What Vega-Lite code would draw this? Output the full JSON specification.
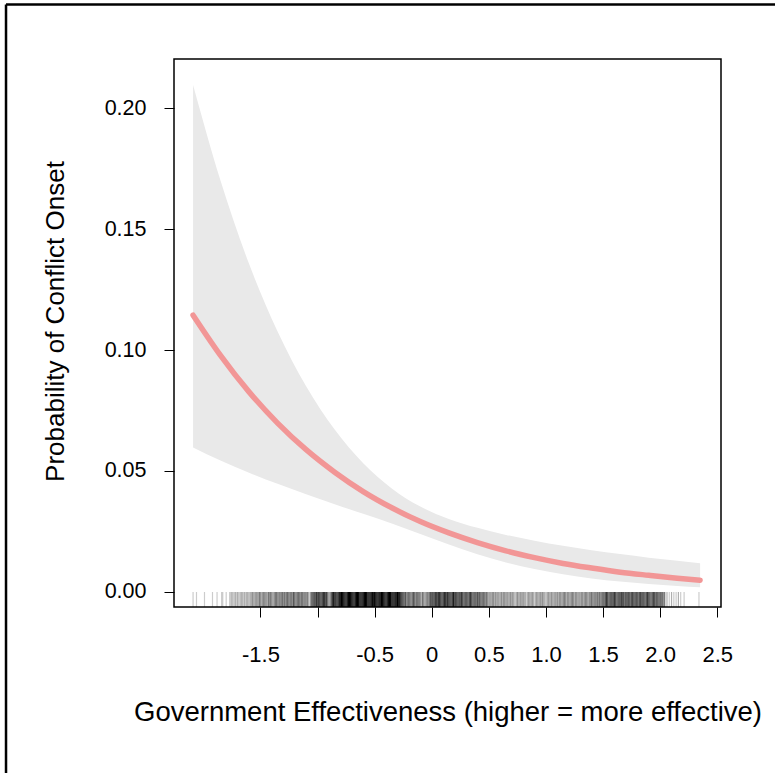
{
  "$schema": "https://vega.github.io/schema/vega-lite/v6.json",
  "width": 547,
  "height": 548,
  "autosize": {"type": "none"},
  "padding": {"left": 174, "top": 59, "right": 54, "bottom": 166},
  "background": "white",
  "config": {
    "view": {"stroke": "black", "strokeWidth": 1.5},
    "font": "Liberation Sans",
    "axis": {
      "labelFont": "Liberation Sans",
      "titleFont": "Liberation Sans",
      "labelColor": "black",
      "titleColor": "black",
      "tickColor": "black",
      "tickWidth": 1,
      "grid": false,
      "domain": false,
      "titleFontWeight": "normal"
    }
  },
  "datasets": {
    "curve": [
      {"ge": -2.09, "p": 0.1144, "lo": 0.0597, "hi": 0.2095},
      {"ge": -1.85, "p": 0.0978, "lo": 0.0543, "hi": 0.1700},
      {"ge": -1.6, "p": 0.0827, "lo": 0.0493, "hi": 0.1356},
      {"ge": -1.35, "p": 0.0698, "lo": 0.0447, "hi": 0.1076},
      {"ge": -1.1, "p": 0.0588, "lo": 0.0404, "hi": 0.0850},
      {"ge": -0.85, "p": 0.0495, "lo": 0.0363, "hi": 0.0671},
      {"ge": -0.6, "p": 0.0415, "lo": 0.0323, "hi": 0.0532},
      {"ge": -0.35, "p": 0.0348, "lo": 0.0283, "hi": 0.0428},
      {"ge": -0.1, "p": 0.0291, "lo": 0.0240, "hi": 0.0353},
      {"ge": 0.15, "p": 0.0244, "lo": 0.0196, "hi": 0.0302},
      {"ge": 0.4, "p": 0.0204, "lo": 0.0156, "hi": 0.0265},
      {"ge": 0.65, "p": 0.0170, "lo": 0.0122, "hi": 0.0236},
      {"ge": 0.9, "p": 0.0142, "lo": 0.0095, "hi": 0.0212},
      {"ge": 1.15, "p": 0.0118, "lo": 0.0073, "hi": 0.0191},
      {"ge": 1.4, "p": 0.0099, "lo": 0.0056, "hi": 0.0173},
      {"ge": 1.65, "p": 0.0082, "lo": 0.0043, "hi": 0.0157},
      {"ge": 1.9, "p": 0.0069, "lo": 0.0033, "hi": 0.0142},
      {"ge": 2.15, "p": 0.0057, "lo": 0.0025, "hi": 0.0129},
      {"ge": 2.35, "p": 0.0049, "lo": 0.0020, "hi": 0.0119}
    ],
    "rug": [
      {"ge":-2.09,"n":1},{"ge":-2.06,"n":1},{"ge":-1.99,"n":1},{"ge":-1.92,"n":1},{"ge":-1.88,"n":1},{"ge":-1.84,"n":1},{"ge":-1.83,"n":1},{"ge":-1.80,"n":1},
      {"ge":-1.77,"n":1},{"ge":-1.76,"n":1},{"ge":-1.75,"n":2},{"ge":-1.74,"n":1},{"ge":-1.73,"n":1},{"ge":-1.72,"n":2},{"ge":-1.71,"n":1},{"ge":-1.70,"n":2},{"ge":-1.69,"n":1},{"ge":-1.68,"n":1},{"ge":-1.67,"n":2},{"ge":-1.66,"n":2},{"ge":-1.65,"n":1},{"ge":-1.64,"n":2},{"ge":-1.63,"n":1},{"ge":-1.62,"n":2},{"ge":-1.61,"n":2},{"ge":-1.60,"n":1},{"ge":-1.59,"n":2},{"ge":-1.58,"n":2},{"ge":-1.57,"n":3},{"ge":-1.56,"n":2},{"ge":-1.55,"n":2},{"ge":-1.54,"n":3},
      {"ge":-1.53,"n":3},{"ge":-1.52,"n":2},{"ge":-1.51,"n":4},{"ge":-1.50,"n":3},{"ge":-1.49,"n":2},{"ge":-1.48,"n":3},{"ge":-1.47,"n":4},{"ge":-1.46,"n":3},{"ge":-1.45,"n":3},{"ge":-1.44,"n":2},{"ge":-1.43,"n":4},{"ge":-1.42,"n":3},{"ge":-1.41,"n":4},{"ge":-1.40,"n":3},{"ge":-1.39,"n":2},{"ge":-1.38,"n":3},{"ge":-1.37,"n":4},{"ge":-1.36,"n":4},{"ge":-1.35,"n":3},{"ge":-1.34,"n":3},{"ge":-1.33,"n":4},{"ge":-1.32,"n":3},{"ge":-1.31,"n":5},{"ge":-1.30,"n":3},{"ge":-1.29,"n":4},{"ge":-1.28,"n":3},{"ge":-1.27,"n":4},{"ge":-1.26,"n":5},{"ge":-1.25,"n":3},{"ge":-1.24,"n":4},{"ge":-1.23,"n":4},{"ge":-1.22,"n":3},{"ge":-1.21,"n":5},{"ge":-1.20,"n":4},{"ge":-1.19,"n":3},{"ge":-1.18,"n":4},{"ge":-1.17,"n":5},{"ge":-1.16,"n":4},{"ge":-1.15,"n":3},{"ge":-1.14,"n":4},
      {"ge":-1.13,"n":4},{"ge":-1.12,"n":3},{"ge":-1.11,"n":4},{"ge":-1.10,"n":3},{"ge":-1.09,"n":4},{"ge":-1.08,"n":2},{"ge":-1.07,"n":1},{"ge":-1.06,"n":3},{"ge":-1.05,"n":5},{"ge":-1.04,"n":5},{"ge":-1.03,"n":6},{"ge":-1.02,"n":5},{"ge":-1.01,"n":6},{"ge":-1.00,"n":5},{"ge":-0.99,"n":6},{"ge":-0.98,"n":6},{"ge":-0.97,"n":5},{"ge":-0.96,"n":6},{"ge":-0.95,"n":7},{"ge":-0.94,"n":6},{"ge":-0.93,"n":5},{"ge":-0.92,"n":6},{"ge":-0.91,"n":4},{"ge":-0.90,"n":2},{"ge":-0.89,"n":3},{"ge":-0.88,"n":5},{"ge":-0.87,"n":6},{"ge":-0.86,"n":7},{"ge":-0.85,"n":6},{"ge":-0.84,"n":7},{"ge":-0.83,"n":6},{"ge":-0.82,"n":7},{"ge":-0.81,"n":8},{"ge":-0.80,"n":7},{"ge":-0.79,"n":8},
      {"ge":-0.78,"n":8},{"ge":-0.77,"n":9},{"ge":-0.76,"n":8},{"ge":-0.75,"n":7},{"ge":-0.74,"n":9},{"ge":-0.73,"n":8},{"ge":-0.72,"n":9},{"ge":-0.71,"n":8},{"ge":-0.70,"n":8},{"ge":-0.69,"n":9},{"ge":-0.68,"n":7},{"ge":-0.67,"n":8},{"ge":-0.66,"n":9},{"ge":-0.65,"n":9},{"ge":-0.64,"n":8},{"ge":-0.63,"n":7},{"ge":-0.62,"n":8},{"ge":-0.61,"n":9},{"ge":-0.60,"n":8},{"ge":-0.59,"n":9},{"ge":-0.58,"n":8},{"ge":-0.57,"n":8},{"ge":-0.56,"n":7},{"ge":-0.55,"n":9},{"ge":-0.54,"n":8},{"ge":-0.53,"n":9},{"ge":-0.52,"n":8},{"ge":-0.51,"n":7},{"ge":-0.50,"n":8},{"ge":-0.49,"n":9},{"ge":-0.48,"n":8},{"ge":-0.47,"n":8},{"ge":-0.46,"n":9},{"ge":-0.45,"n":7},{"ge":-0.44,"n":8},{"ge":-0.43,"n":8},{"ge":-0.42,"n":9},{"ge":-0.41,"n":8},{"ge":-0.40,"n":7},{"ge":-0.39,"n":8},{"ge":-0.38,"n":9},{"ge":-0.37,"n":8},{"ge":-0.36,"n":8},{"ge":-0.35,"n":7},{"ge":-0.34,"n":8},{"ge":-0.33,"n":9},{"ge":-0.32,"n":8},{"ge":-0.31,"n":7},{"ge":-0.30,"n":8},{"ge":-0.29,"n":7},{"ge":-0.28,"n":8},{"ge":-0.27,"n":7},{"ge":-0.26,"n":6},
      {"ge":-0.25,"n":5},{"ge":-0.24,"n":4},{"ge":-0.23,"n":5},{"ge":-0.22,"n":3},{"ge":-0.21,"n":4},{"ge":-0.20,"n":5},{"ge":-0.19,"n":4},{"ge":-0.18,"n":3},{"ge":-0.17,"n":4},{"ge":-0.16,"n":5},{"ge":-0.15,"n":4},{"ge":-0.14,"n":3},{"ge":-0.13,"n":5},{"ge":-0.12,"n":4},{"ge":-0.11,"n":4},
      {"ge":-0.10,"n":3},{"ge":-0.09,"n":2},{"ge":-0.08,"n":4},{"ge":-0.07,"n":3},{"ge":-0.06,"n":2},{"ge":-0.05,"n":3},{"ge":-0.04,"n":4},{"ge":-0.03,"n":3},{"ge":-0.02,"n":4},{"ge":-0.01,"n":5},{"ge":0.00,"n":5},
      {"ge":0.01,"n":6},{"ge":0.02,"n":5},{"ge":0.03,"n":7},{"ge":0.04,"n":6},{"ge":0.05,"n":5},{"ge":0.06,"n":6},{"ge":0.07,"n":7},{"ge":0.08,"n":6},{"ge":0.09,"n":5},{"ge":0.10,"n":6},{"ge":0.11,"n":7},{"ge":0.12,"n":6},{"ge":0.13,"n":5},{"ge":0.14,"n":7},{"ge":0.15,"n":6},{"ge":0.16,"n":6},{"ge":0.17,"n":5},{"ge":0.18,"n":6},{"ge":0.19,"n":7},{"ge":0.20,"n":5},{"ge":0.21,"n":6},{"ge":0.22,"n":6},{"ge":0.23,"n":5},{"ge":0.24,"n":6},{"ge":0.25,"n":5},{"ge":0.26,"n":6},{"ge":0.27,"n":5},{"ge":0.28,"n":4},{"ge":0.29,"n":5},{"ge":0.30,"n":6},{"ge":0.31,"n":5},{"ge":0.32,"n":4},{"ge":0.33,"n":5},{"ge":0.34,"n":6},{"ge":0.35,"n":5},{"ge":0.36,"n":4},{"ge":0.37,"n":5},{"ge":0.38,"n":5},{"ge":0.39,"n":4},{"ge":0.40,"n":5},{"ge":0.41,"n":4},{"ge":0.42,"n":5},{"ge":0.43,"n":4},{"ge":0.44,"n":4},{"ge":0.45,"n":5},{"ge":0.46,"n":4},{"ge":0.47,"n":3},{"ge":0.48,"n":4},
      {"ge":0.49,"n":3},{"ge":0.50,"n":2},{"ge":0.51,"n":3},{"ge":0.52,"n":2},{"ge":0.53,"n":3},{"ge":0.54,"n":3},{"ge":0.55,"n":2},{"ge":0.56,"n":3},{"ge":0.57,"n":2},{"ge":0.58,"n":3},{"ge":0.59,"n":2},{"ge":0.60,"n":2},{"ge":0.61,"n":3},{"ge":0.62,"n":2},{"ge":0.63,"n":3},{"ge":0.64,"n":3},{"ge":0.65,"n":2},{"ge":0.66,"n":3},{"ge":0.67,"n":2},{"ge":0.68,"n":2},{"ge":0.69,"n":3},{"ge":0.70,"n":2},{"ge":0.71,"n":3},{"ge":0.72,"n":2},{"ge":0.73,"n":1},{"ge":0.74,"n":2},{"ge":0.75,"n":3},{"ge":0.76,"n":2},{"ge":0.77,"n":2},{"ge":0.78,"n":3},{"ge":0.79,"n":2},{"ge":0.80,"n":3},{"ge":0.81,"n":2},{"ge":0.82,"n":2},{"ge":0.83,"n":1},{"ge":0.84,"n":2},{"ge":0.85,"n":3},{"ge":0.86,"n":2},{"ge":0.87,"n":2},{"ge":0.88,"n":3},{"ge":0.89,"n":2},{"ge":0.90,"n":1},{"ge":0.91,"n":2},{"ge":0.92,"n":3},{"ge":0.93,"n":2},{"ge":0.94,"n":2},{"ge":0.95,"n":3},{"ge":0.96,"n":2},{"ge":0.97,"n":3},{"ge":0.98,"n":2},{"ge":0.99,"n":2},{"ge":1.00,"n":1},{"ge":1.01,"n":2},{"ge":1.02,"n":3},{"ge":1.03,"n":2},{"ge":1.04,"n":2},{"ge":1.05,"n":3},{"ge":1.06,"n":2},{"ge":1.07,"n":2},{"ge":1.08,"n":3},{"ge":1.09,"n":2},
      {"ge":1.10,"n":3},{"ge":1.11,"n":2},{"ge":1.12,"n":3},{"ge":1.13,"n":3},{"ge":1.14,"n":2},{"ge":1.15,"n":3},{"ge":1.16,"n":4},{"ge":1.17,"n":3},{"ge":1.18,"n":2},{"ge":1.19,"n":3},{"ge":1.20,"n":3},{"ge":1.21,"n":2},{"ge":1.22,"n":3},{"ge":1.23,"n":4},{"ge":1.24,"n":3},{"ge":1.25,"n":2},{"ge":1.26,"n":3},{"ge":1.27,"n":3},{"ge":1.28,"n":2},{"ge":1.29,"n":3},{"ge":1.30,"n":2},{"ge":1.31,"n":3},{"ge":1.32,"n":3},{"ge":1.33,"n":2},{"ge":1.34,"n":3},{"ge":1.35,"n":4},{"ge":1.36,"n":3},{"ge":1.37,"n":2},{"ge":1.38,"n":3},{"ge":1.39,"n":3},{"ge":1.40,"n":4},{"ge":1.41,"n":3},{"ge":1.42,"n":3},{"ge":1.43,"n":4},{"ge":1.44,"n":3},{"ge":1.45,"n":4},{"ge":1.46,"n":3},{"ge":1.47,"n":4},{"ge":1.48,"n":3},{"ge":1.49,"n":4},
      {"ge":1.50,"n":5},{"ge":1.51,"n":4},{"ge":1.52,"n":5},{"ge":1.53,"n":6},{"ge":1.54,"n":5},{"ge":1.55,"n":4},{"ge":1.56,"n":5},{"ge":1.57,"n":6},{"ge":1.58,"n":5},{"ge":1.59,"n":5},{"ge":1.60,"n":6},{"ge":1.61,"n":5},{"ge":1.62,"n":4},{"ge":1.63,"n":5},{"ge":1.64,"n":6},{"ge":1.65,"n":5},{"ge":1.66,"n":6},{"ge":1.67,"n":5},{"ge":1.68,"n":5},{"ge":1.69,"n":4},{"ge":1.70,"n":6},{"ge":1.71,"n":5},{"ge":1.72,"n":6},{"ge":1.73,"n":5},{"ge":1.74,"n":4},{"ge":1.75,"n":5},{"ge":1.76,"n":6},{"ge":1.77,"n":5},{"ge":1.78,"n":5},{"ge":1.79,"n":6},{"ge":1.80,"n":5},{"ge":1.81,"n":4},{"ge":1.82,"n":5},{"ge":1.83,"n":6},{"ge":1.84,"n":5},{"ge":1.85,"n":6},{"ge":1.86,"n":5},{"ge":1.87,"n":4},{"ge":1.88,"n":5},{"ge":1.89,"n":6},{"ge":1.90,"n":5},{"ge":1.91,"n":5},{"ge":1.92,"n":4},{"ge":1.93,"n":5},{"ge":1.94,"n":6},{"ge":1.95,"n":5},{"ge":1.96,"n":4},{"ge":1.97,"n":5},{"ge":1.98,"n":5},{"ge":1.99,"n":4},{"ge":2.00,"n":5},{"ge":2.01,"n":4},{"ge":2.02,"n":4},{"ge":2.03,"n":3},{"ge":2.04,"n":4},
      {"ge":2.06,"n":2},{"ge":2.08,"n":1},{"ge":2.10,"n":2},{"ge":2.12,"n":1},{"ge":2.14,"n":1},{"ge":2.16,"n":2},{"ge":2.18,"n":1},{"ge":2.21,"n":1},{"ge":2.34,"n":1}
    ]
  },
  "layer": [
    {
      "data": {"values": [{}]},
      "mark": {"type": "rule", "color": "black", "strokeWidth": 2.5, "clip": false},
      "encoding": {
        "x": {"datum": -3.728, "type": "quantitative"},
        "x2": {"datum": 3.6},
        "y": {"datum": 0.2428, "type": "quantitative"}
      }
    },
    {
      "data": {"values": [{}]},
      "mark": {"type": "rule", "color": "black", "strokeWidth": 2.5, "clip": false},
      "encoding": {
        "x": {"datum": -3.728, "type": "quantitative"},
        "y": {"datum": 0.2428, "type": "quantitative"},
        "y2": {"datum": -0.12}
      }
    },
    {
      "data": {"name": "curve"},
      "mark": {"type": "area", "color": "#e9e9e9", "opacity": 1, "interpolate": "monotone"},
      "encoding": {
        "x": {
          "field": "ge", "type": "quantitative",
          "scale": {"domain": [-2.257, 2.533], "nice": false, "zero": false},
          "axis": {
            "values": [-1.5, -1, -0.5, 0, 0.5, 1, 1.5, 2, 2.5],
            "labelExpr": "datum.value == -1 ? '' : datum.value == 0 ? '0' : (datum.value < 0 ? '-' : '') + format(abs(datum.value), '.1f')",
            "tickSize": 10,
            "labelFontSize": 22,
            "labelPadding": 27,
            "title": "Government Effectiveness (higher = more effective)",
            "titleFontSize": 27.5,
            "titlePadding": 33
          }
        },
        "y": {
          "field": "lo", "type": "quantitative",
          "scale": {"domain": [-0.0062, 0.22025], "nice": false, "zero": false},
          "axis": {
            "values": [0, 0.05, 0.1, 0.15, 0.2],
            "format": ".2f",
            "tickSize": 10,
            "labelFontSize": 21.5,
            "labelPadding": 18,
            "title": "Probability of Conflict Onset",
            "titleFontSize": 26,
            "titlePadding": 36,
            "titleY": 262
          }
        },
        "y2": {"field": "hi"}
      }
    },
    {
      "data": {"name": "rug"},
      "mark": {"type": "rule", "color": "black", "strokeWidth": 1.2},
      "encoding": {
        "x": {"field": "ge", "type": "quantitative"},
        "y": {"datum": 0, "type": "quantitative"},
        "y2": {"datum": -0.0062},
        "opacity": {"field": "n", "type": "quantitative", "scale": {"domain": [1, 8], "range": [0.2, 1], "clamp": true}, "legend": null}
      }
    },
    {
      "data": {"name": "curve"},
      "mark": {"type": "line", "color": "#f29696", "strokeWidth": 5.5, "strokeCap": "round", "interpolate": "monotone"},
      "encoding": {
        "x": {"field": "ge", "type": "quantitative"},
        "y": {"field": "p", "type": "quantitative"}
      }
    }
  ]
}
